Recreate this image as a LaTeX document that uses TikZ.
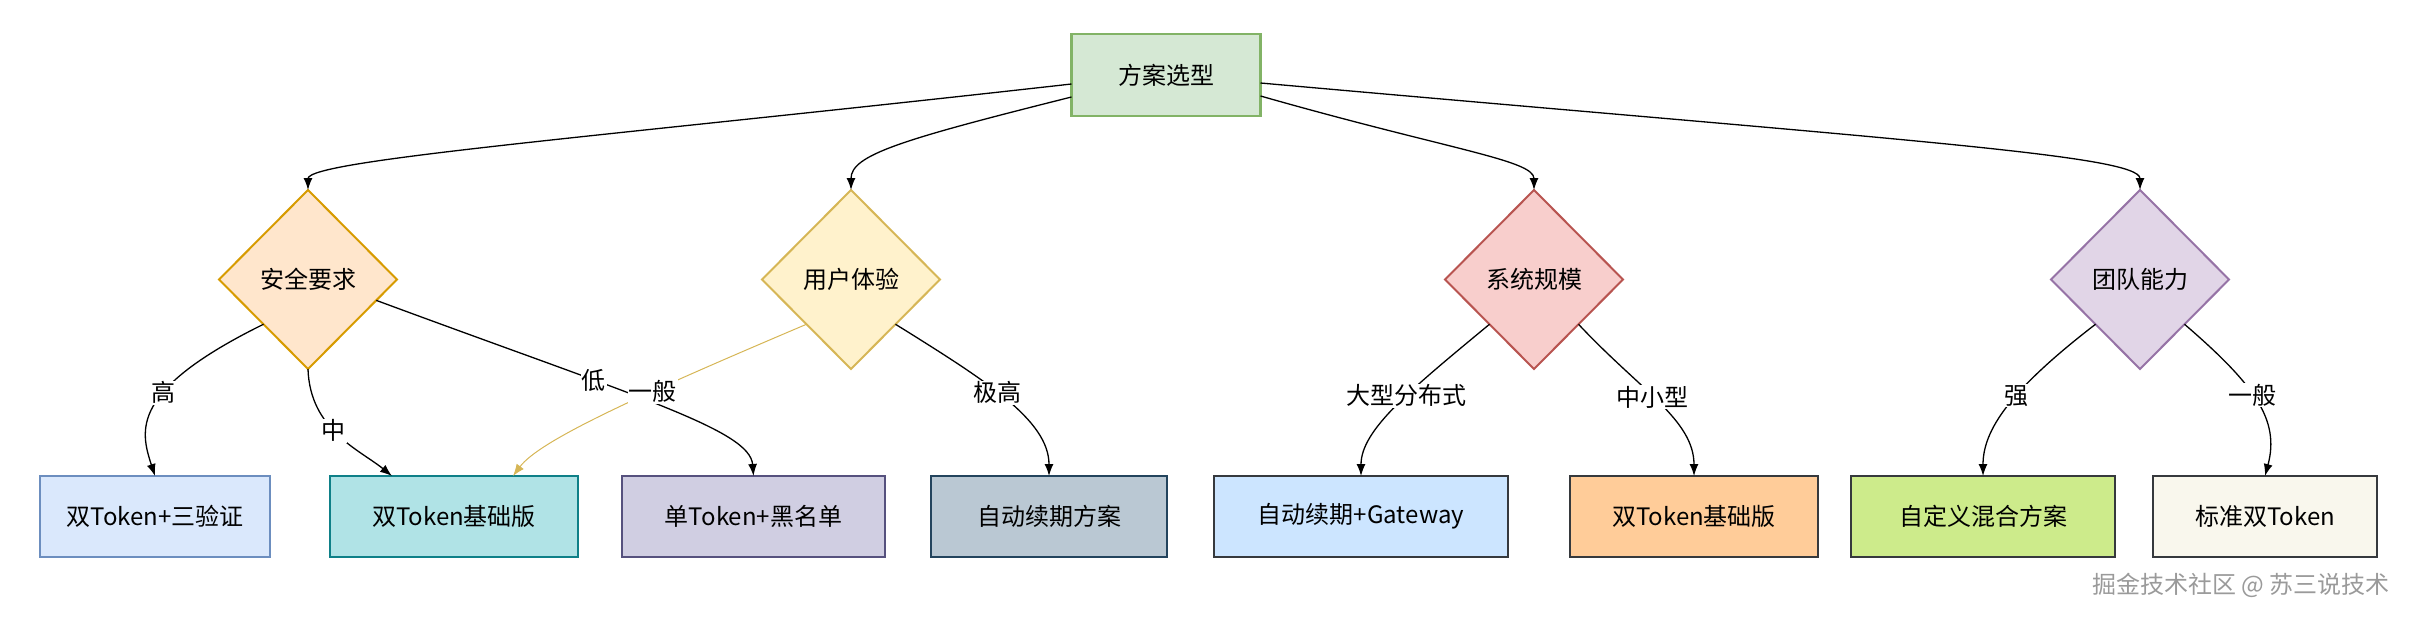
\documentclass[tikz,border=0pt]{standalone}
\usepackage{fontspec}
\setmainfont{Noto Sans CJK SC}
\usetikzlibrary{shapes.geometric, arrows.meta}

\definecolor{fanganFill}{HTML}{D5E8D4}
\definecolor{fanganLine}{HTML}{82B366}
\definecolor{anquanFill}{HTML}{FFE6CC}
\definecolor{anquanLine}{HTML}{D79B00}
\definecolor{tiyanFill}{HTML}{FFF2CC}
\definecolor{tiyanLine}{HTML}{D6B656}
\definecolor{guimoFill}{HTML}{F8CECC}
\definecolor{guimoLine}{HTML}{B85450}
\definecolor{nengliFill}{HTML}{E1D5E7}
\definecolor{nengliLine}{HTML}{9673A6}
\definecolor{lanFill}{HTML}{DAE8FC}
\definecolor{lanLine}{HTML}{6C8EBF}
\definecolor{qingFill}{HTML}{B0E3E6}
\definecolor{qingLine}{HTML}{0E8088}
\definecolor{ziFill}{HTML}{D0CEE2}
\definecolor{ziLine}{HTML}{56517E}
\definecolor{huiFill}{HTML}{BAC8D3}
\definecolor{huiLine}{HTML}{23445D}
\definecolor{tianFill}{HTML}{CCE5FF}
\definecolor{chengFill}{HTML}{FFCC99}
\definecolor{lvFill}{HTML}{CDEB8B}
\definecolor{miFill}{HTML}{F9F7ED}
\definecolor{shenLine}{HTML}{36393D}
\definecolor{shuiyinGray}{HTML}{9A9A9A}

\begin{document}
\begin{tikzpicture}[x=1pt, y=-1pt, font=\fontsize{24}{28}\selectfont,
	every node/.style={outer sep=0pt, anchor=center},
	kuang/.style={draw, line width=2pt, minimum height=81pt},
	lingxing/.style={diamond, draw, line width=2pt, minimum width=178pt, minimum height=179pt, inner sep=0pt},
	biaoqian/.style={fill=white, inner sep=1pt},
	jiantou/.style={-{Latex[length=12pt, width=9pt]}, line width=1.3pt}]
	
	\useasboundingbox (0, 0) rectangle (2412, 616);
	
	% 根节点
	\node[draw=fanganLine, fill=fanganFill, line width=2.5pt, minimum width=189pt, minimum height=82pt] (fangan) at (1166, 75) {方案选型};
	
	% 判断条件
	\node[lingxing, draw=anquanLine, fill=anquanFill] (anquan) at (308, 279.5) {安全要求};
	\node[lingxing, draw=tiyanLine, fill=tiyanFill] (tiyan) at (851, 279.5) {用户体验};
	\node[lingxing, draw=guimoLine, fill=guimoFill] (guimo) at (1534, 279.5) {系统规模};
	\node[lingxing, draw=nengliLine, fill=nengliFill] (nengli) at (2140, 279.5) {团队能力};
	
	% 方案结果
	\node[kuang, draw=lanLine, fill=lanFill, minimum width=230pt] (shuangyz) at (155, 516.5) {双Token+三验证};
	\node[kuang, draw=qingLine, fill=qingFill, minimum width=248pt] (jichu1) at (454, 516.5) {双Token基础版};
	\node[kuang, draw=ziLine, fill=ziFill, minimum width=263pt] (dantoken) at (753.5, 516.5) {单Token+黑名单};
	\node[kuang, draw=huiLine, fill=huiFill, minimum width=236pt] (xuqi) at (1049, 516.5) {自动续期方案};
	\node[kuang, draw=shenLine, fill=tianFill, minimum width=294pt] (gateway) at (1361, 516.5) {自动续期+Gateway};
	\node[kuang, draw=shenLine, fill=chengFill, minimum width=248pt] (jichu2) at (1694, 516.5) {双Token基础版};
	\node[kuang, draw=shenLine, fill=lvFill, minimum width=264pt] (hunhe) at (1983, 516.5) {自定义混合方案};
	\node[kuang, draw=shenLine, fill=miFill, minimum width=224pt] (biaozhun) at (2265, 516.5) {标准双Token};
	
	% 根节点连线
	\draw[jiantou] ([yshift=-9pt]fangan.west) .. controls (600, 137) and (308, 160) .. (anquan.north);
	\draw[jiantou] ([yshift=-22pt]fangan.west) .. controls (900, 140) and (851, 155) .. (tiyan.north);
	\draw[jiantou] ([yshift=-21pt]fangan.east) .. controls (1450, 150) and (1534, 160) .. (guimo.north);
	\draw[jiantou] ([yshift=-8pt]fangan.east) .. controls (1900, 140) and (2140, 155) .. (nengli.north);
	
	% 安全要求
	\draw[jiantou] (anquan.south west) .. controls (130, 390) and (140, 430) .. node[biaoqian, pos=0.4] {高} (shuangyz.north);
	\draw[jiantou] (anquan.south) .. controls (310, 430) and (360, 450) .. node[biaoqian, pos=0.45] {中} ([xshift=-62pt]jichu1.north);
	\draw[jiantou] (anquan.-17) .. controls (640, 398) and (750, 430) .. node[biaoqian, pos=0.34] {低} (dantoken.north);
	
	% 用户体验
	\draw[-{Latex[length=12pt, width=9pt]}, line width=1pt, draw=tiyanLine] (tiyan.south west) .. controls (640, 395) and (540, 440) .. node[biaoqian, pos=0.36] {一般} ([xshift=59pt]jichu1.north);
	\draw[jiantou] (tiyan.south east) .. controls (985, 380) and (1049, 420) .. node[biaoqian, pos=0.45] {极高} (xuqi.north);
	
	% 系统规模
	\draw[jiantou] (guimo.south west) .. controls (1410, 390) and (1361, 430) .. node[biaoqian, pos=0.42] {大型分布式} (gateway.north);
	\draw[jiantou] (guimo.south east) .. controls (1640, 390) and (1694, 420) .. node[biaoqian, pos=0.45] {中小型} (jichu2.north);
	
	% 团队能力
	\draw[jiantou] (nengli.south west) .. controls (2010, 390) and (1983, 430) .. node[biaoqian, pos=0.42] {强} (hunhe.north);
	\draw[jiantou] (nengli.south east) .. controls (2255, 385) and (2280, 420) .. node[biaoqian, pos=0.45] {一般} (biaozhun.north);
	
	\node[text=shuiyinGray, anchor=east] (shuiyin) at (2393, 585) {掘金技术社区 @ 苏三说技术};
	
\end{tikzpicture}
\end{document}
